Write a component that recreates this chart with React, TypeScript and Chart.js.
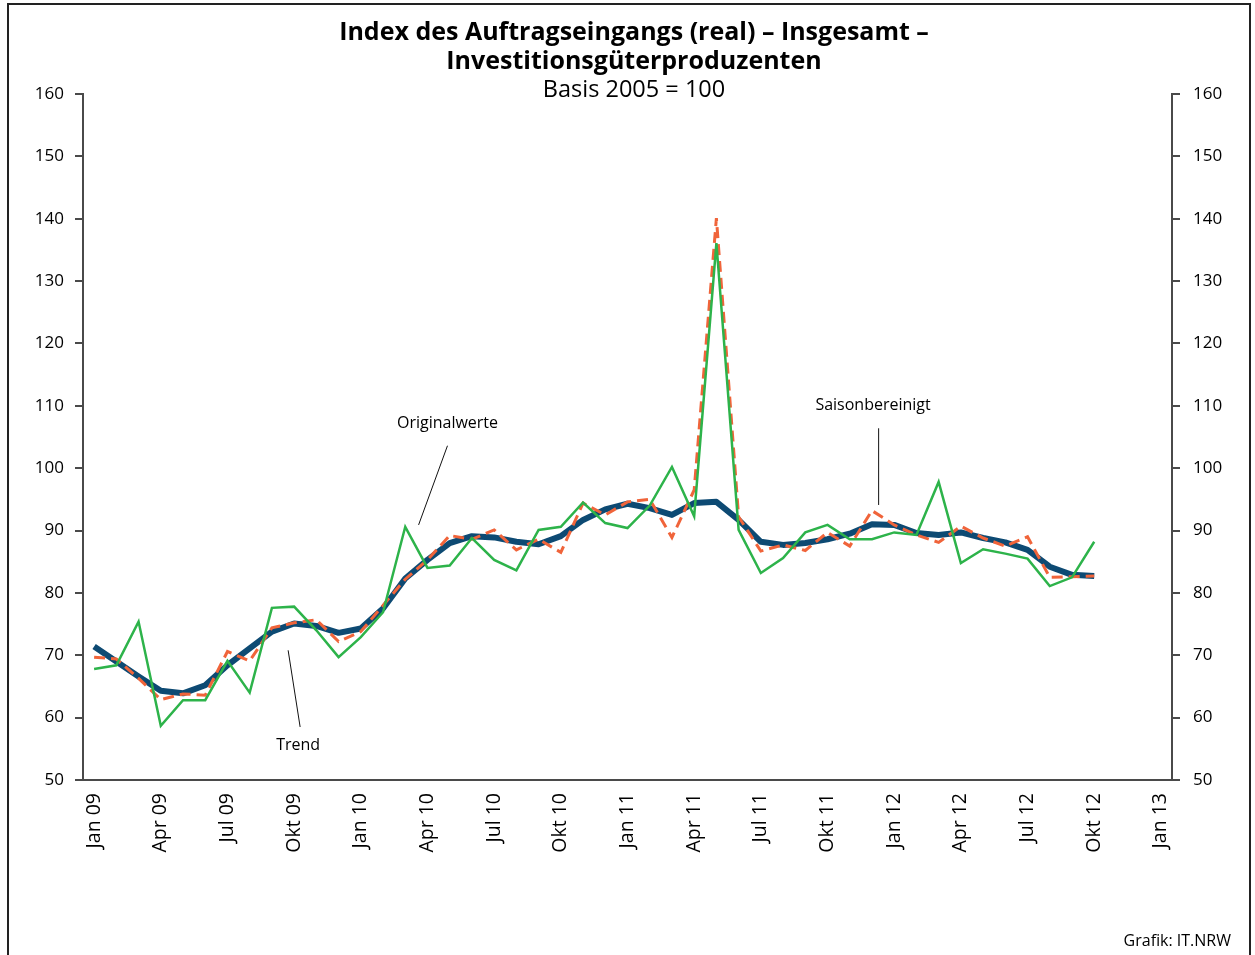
import React, { useEffect, useRef } from 'react';
import { Chart, registerables } from 'chart.js';

Chart.register(...registerables);

const FONT = '"Open Sans", "DejaVu Sans", sans-serif';

const monthNames = ['Jan', 'Feb', 'Mär', 'Apr', 'Mai', 'Jun', 'Jul', 'Aug', 'Sep', 'Okt', 'Nov', 'Dez'];
const yearLabels = ['09', '10', '11', '12', '13'];
const categories: string[] = [];
yearLabels.forEach((yr, yi) => {
  monthNames.forEach((m, mi) => {
    if (yi < yearLabels.length - 1 || mi === 0) categories.push(`${m} ${yr}`);
  });
});

const originalwerte = [
  67.8, 68.4, 75.4, 58.7, 62.8, 62.8, 69.1, 64.0, 77.6, 77.8, 74.0, 69.7,
  72.9, 76.9, 90.6, 84.0, 84.4, 88.8, 85.3, 83.6, 90.1, 90.6, 94.5, 91.2,
  90.4, 94.0, 100.2, 92.3, 136.1, 90.1, 83.2, 85.6, 89.7, 90.9, 88.6, 88.6,
  89.7, 89.3, 97.8, 84.8, 87.0, 86.3, 85.5, 81.1, 82.5, 88.2,
];

const saisonbereinigt = [
  69.7, 69.4, 66.3, 62.9, 63.8, 63.6, 70.6, 69.1, 74.4, 75.2, 75.7, 72.2,
  73.8, 78.0, 82.2, 85.3, 89.2, 88.6, 90.1, 86.9, 88.6, 86.5, 94.4, 92.5,
  94.6, 95.0, 88.9, 96.5, 140.1, 92.2, 86.7, 87.7, 86.8, 89.7, 87.5, 93.2,
  90.9, 89.3, 88.1, 90.7, 88.8, 87.5, 89.0, 82.5, 82.6, 82.7,
];

const trend = [
  71.4, 69.0, 66.6, 64.3, 63.9, 65.2, 68.4, 71.1, 73.8, 75.1, 74.7, 73.6,
  74.3, 77.5, 82.3, 85.3, 88.0, 89.1, 88.9, 88.2, 87.8, 89.1, 91.7, 93.4,
  94.3, 93.6, 92.5, 94.4, 94.6, 91.7, 88.2, 87.7, 88.0, 88.6, 89.5, 91.0,
  90.9, 89.6, 89.3, 89.7, 88.8, 88.1, 86.9, 84.2, 82.9, 82.7,
];

const titleLines = ['Index des Auftragseingangs (real) – Insgesamt –', 'Investitionsgüterproduzenten'];
const subtitleText = 'Basis 2005 = 100';
const sourceText = 'Grafik: IT.NRW';

// annotation labels anchored in data space (category index, value)
const annotationLabels = ['Originalwerte', 'Saisonbereinigt', 'Trend'];
const annotationTextX = [15.9, 35.05, 9.18];
const annotationTextY = [107.1, 110.0, 55.6];
const leaderStartX = [15.9, 35.3, 8.73];
const leaderStartY = [103.6, 106.4, 70.8];
const leaderEndX = [14.6, 35.3, 9.27];
const leaderEndY = [90.9, 94.1, 58.5];

const Y_MIN = 50;
const Y_MAX = 160;

const decorPlugin = {
  id: 'decor',
  afterDatasetsDraw(chart: any) {
    const { ctx } = chart;
    const x = chart.scales.x;
    const y = chart.scales.y;
    ctx.save();
    ctx.strokeStyle = '#111';
    ctx.lineWidth = 1;
    ctx.fillStyle = '#000';
    ctx.font = `16px ${FONT}`;
    ctx.textAlign = 'center';
    ctx.textBaseline = 'middle';
    annotationLabels.forEach((label, i) => {
      ctx.beginPath();
      ctx.moveTo(x.getPixelForValue(leaderStartX[i]), y.getPixelForValue(leaderStartY[i]));
      ctx.lineTo(x.getPixelForValue(leaderEndX[i]), y.getPixelForValue(leaderEndY[i]));
      ctx.stroke();
      ctx.fillText(label, x.getPixelForValue(annotationTextX[i]), y.getPixelForValue(annotationTextY[i]));
    });
    ctx.restore();
  },
  afterDraw(chart: any) {
    const { ctx } = chart;
    ctx.save();
    ctx.fillStyle = '#000';
    ctx.textAlign = 'center';
    ctx.textBaseline = 'middle';
    ctx.font = `bold 25px ${FONT}`;
    ctx.fillText(titleLines[0], 634, 33);
    ctx.fillText(titleLines[1], 634, 62);
    ctx.font = `23.5px ${FONT}`;
    ctx.fillText(subtitleText, 634, 90);
    ctx.font = `16px ${FONT}`;
    ctx.textAlign = 'right';
    ctx.fillText(sourceText, 1231, 941);
    ctx.restore();
  },
};

export default function App() {
  const canvasRef = useRef<HTMLCanvasElement | null>(null);

  useEffect(() => {
    if (!canvasRef.current) return;
    const axisColor = '#4a4a4a';
    const tickFont = { family: FONT, size: 17 };
    const yScale = (position: 'left' | 'right', pad: number) => ({
      type: 'linear' as const,
      position,
      min: Y_MIN,
      max: Y_MAX,
      ticks: { stepSize: 10, color: '#000', font: tickFont, padding: pad },
      grid: { drawOnChartArea: false, drawTicks: true, tickLength: 8, color: axisColor, lineWidth: 2 },
      border: { display: true, color: axisColor, width: 2 },
      afterFit: (s: any) => {
        s.width = 83;
      },
    });
    const chart = new Chart(canvasRef.current, {
      type: 'line',
      data: {
        labels: categories,
        datasets: [
          {
            label: 'Originalwerte',
            data: originalwerte,
            borderColor: '#2db34a',
            borderWidth: 2.5,
            pointRadius: 0,
            tension: 0,
            fill: false,
            order: 0,
          },
          {
            label: 'Saisonbereinigt',
            data: saisonbereinigt,
            borderColor: '#f0643a',
            borderWidth: 3,
            borderDash: [11, 6],
            pointRadius: 0,
            tension: 0,
            fill: false,
            order: 1,
          },
          {
            label: 'Trend',
            data: trend,
            borderColor: '#0d4a73',
            borderWidth: 6,
            borderJoinStyle: 'round',
            pointRadius: 0,
            tension: 0,
            fill: false,
            order: 2,
          },
        ],
      },
      options: {
        animation: false,
        responsive: false,
        devicePixelRatio: 1,
        layout: { padding: { top: 94, left: 0, right: 0, bottom: 0 } },
        plugins: {
          legend: { display: false },
          tooltip: { enabled: false },
          title: { display: false },
        },
        scales: {
          x: {
            type: 'category',
            offset: true,
            grid: { display: false, drawTicks: false },
            border: { display: true, color: axisColor, width: 2 },
            ticks: {
              autoSkip: false,
              maxRotation: 90,
              minRotation: 90,
              padding: 13,
              color: '#000',
              font: { family: FONT, size: 19.5 },
              callback: (_v: any, i: number) => (i % 3 === 0 ? categories[i] : ''),
            },
            afterFit: (s: any) => {
              s.height = 175;
            },
          },
          y: yScale('left', 11),
          y2: yScale('right', 13),
        },
      } as any,
      plugins: [decorPlugin],
    });
    return () => chart.destroy();
  }, []);

  return (
    <>
      <div style={{ position: 'fixed', left: 0, top: 0, width: 1255, height: 955, background: '#fff' }}>
        <canvas ref={canvasRef} width={1255} height={955} style={{ display: 'block' }} />
      </div>
      <div
        style={{
          position: 'fixed',
          left: 7,
          top: 3,
          width: 1244,
          height: 1000,
          border: '2px solid #222',
          boxSizing: 'border-box',
          pointerEvents: 'none',
        }}
      />
    </>
  );
}
